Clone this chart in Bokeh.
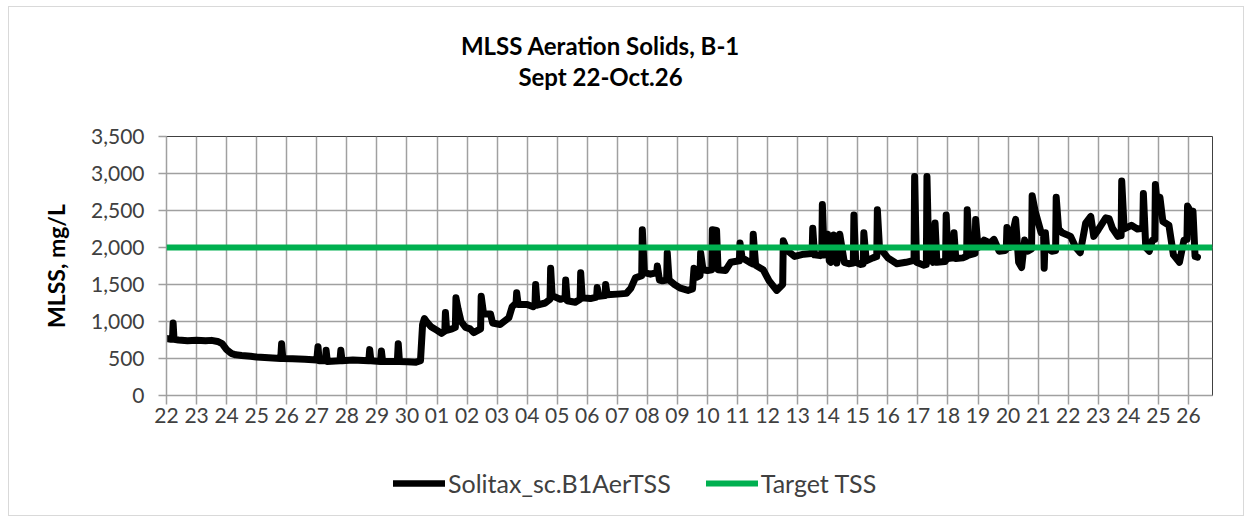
from bokeh.plotting import figure
from bokeh.layouts import column
from bokeh.models import (Range1d, FixedTicker, NumeralTickFormatter, Span, Legend,
                          LegendItem, Label)
from bokeh.embed import file_html
from bokeh.resources import INLINE

# ---------------- data ----------------
title_line1 = "MLSS Aeration Solids, B-1"
title_line2 = "Sept 22-Oct.26"
y_label = "MLSS, mg/L"
series_name = "Solitax_sc.B1AerTSS"
target_name = "Target TSS"

# tick labels: one per day, Sep 22 .. Oct 26
day_labels = ["22", "23", "24", "25", "26", "27", "28", "29", "30",
              "01", "02", "03", "04", "05", "06", "07", "08", "09", "10",
              "11", "12", "13", "14", "15", "16", "17", "18", "19", "20",
              "21", "22", "23", "24", "25", "26"]

# time in days since Sep 22 00:00
t_days = [0.00, 0.15, 0.20, 0.22, 0.25, 0.40, 0.70, 1.00, 1.30, 1.50, 1.70, 1.85,
          2.00, 2.15, 2.30, 2.50, 2.80, 3.00, 3.40, 3.80, 3.83, 3.87, 4.20, 4.60,
          5.00, 5.04, 5.08, 5.29, 5.31, 5.35, 5.77, 5.80, 5.84, 6.20, 6.73, 6.76,
          6.80, 7.12, 7.15, 7.19, 7.68, 7.71, 7.75, 8.00, 8.30, 8.45, 8.52, 8.58,
          8.65, 8.80, 9.00, 9.15, 9.26, 9.28, 9.32, 9.50, 9.61, 9.63, 9.70, 9.80, 9.95, 10.10,
          10.22, 10.45, 10.47, 10.55, 10.78, 10.85, 11.10, 11.39, 11.50, 11.63, 11.65, 11.70,
          12.00, 12.20, 12.26, 12.28, 12.33, 12.60, 12.76, 12.78, 12.83, 13.10, 13.26, 13.28,
          13.33, 13.60, 13.76, 13.78, 13.83, 14.10, 14.31, 14.33, 14.38, 14.59, 14.61, 14.66,
          15.00, 15.30, 15.45, 15.60, 15.81, 15.83, 15.90, 16.10, 16.31, 16.33,
          16.40, 16.50, 16.64, 16.66, 16.72, 16.90, 17.10, 17.35, 17.50, 17.55, 17.65, 17.75,
          17.77, 17.85, 18.00, 18.14, 18.16, 18.30, 18.35, 18.60, 18.77, 19.06, 19.08, 19.15,
          19.40, 19.50, 19.52, 19.60, 19.85, 20.05, 20.30, 20.45, 20.50, 20.52, 20.65, 20.90,
          21.20, 21.45, 21.48, 21.50, 21.56, 21.75, 21.80, 21.82, 21.88,
          22.00, 22.05, 22.10, 22.20, 22.30, 22.40, 22.55, 22.70, 22.85, 22.87, 22.93, 23.10,
          23.18, 23.20, 23.28, 23.50, 23.63, 23.65, 23.72, 24.00, 24.30, 24.60, 24.80, 24.87,
          24.89, 24.95, 25.20, 25.28, 25.30, 25.36, 25.50, 25.55, 25.57, 25.63, 25.90, 25.92,
          25.94, 26.00, 26.18, 26.20, 26.26, 26.50, 26.62, 26.64, 26.72, 26.90, 26.92,
          27.00, 27.20, 27.40, 27.53, 27.70, 27.90, 27.94, 27.96, 28.05, 28.25, 28.35, 28.45,
          28.55, 28.65, 28.78, 28.80, 28.90, 29.10, 29.18, 29.20, 29.24, 29.28, 29.45, 29.58,
          29.60, 29.68, 29.80, 30.08, 30.25, 30.40, 30.58, 30.75, 30.85, 31.00, 31.25, 31.36,
          31.47, 31.65, 31.76, 31.78, 31.86, 32.10, 32.30, 32.48, 32.50, 32.58, 32.70, 32.80,
          32.88, 32.90, 32.98, 33.05, 33.15, 33.35, 33.50, 33.70, 33.85, 33.95, 33.97, 34.05,
          34.15, 34.22, 34.30]

mlss = [770, 760, 760, 980, 760, 750, 740, 745, 740, 745, 730, 700,
        620, 570, 550, 540, 530, 520, 510, 500, 700, 500, 495, 490,
        480, 660, 470, 470, 610, 460, 470, 610, 470, 480, 470, 620,
        470, 460, 600, 460, 460, 700, 460, 455, 450, 470, 960, 1040,
        1000, 930, 880, 840, 870, 1120, 880, 900, 920, 1320, 1170, 1000, 920, 900,
        850, 900, 1340, 1100, 1100, 980, 960, 1050, 1200, 1250, 1390, 1230,
        1230, 1200, 1230, 1500, 1220, 1250, 1300, 1720, 1350, 1300, 1320, 1560,
        1280, 1260, 1300, 1660, 1320, 1310, 1330, 1460, 1340, 1350, 1500, 1360,
        1370, 1380, 1450, 1590, 1620, 2240, 1660, 1640, 1660, 1750,
        1560, 1550, 1560, 1930, 1560, 1500, 1450, 1420, 1440, 1720, 1600, 1620,
        1930, 1700, 1690, 1700, 2240, 2230, 1700, 1690, 1800, 1820, 2060, 1860,
        1800, 1780, 2180, 1760, 1700, 1550, 1420, 1480, 1500, 2090, 1960, 1880,
        1910, 1920, 1930, 2260, 1900, 1890, 1900, 2580, 1900,
        2180, 1820, 1800, 2170, 1790, 2180, 1800, 1780, 1790, 2440, 1800, 1770,
        1780, 2200, 1820, 1860, 1880, 2510, 2000, 1860, 1780, 1800, 1820, 1830,
        2960, 1800, 1760, 1770, 2960, 1900, 1800, 1810, 2330, 1800, 1810, 1820,
        2440, 1850, 1860, 2200, 1850, 1860, 1880, 2510, 1900, 1920, 2380,
        2000, 2100, 2060, 2110, 1950, 1960, 1980, 2270, 2000, 2380, 1800, 1730,
        2100, 1950, 1980, 2700, 2490, 2200, 2200, 1720, 2200, 2000, 1950, 1960,
        2680, 2250, 2200, 2150, 2000, 1930, 2330, 2420, 2150, 2240, 2400, 2390,
        2260, 2150, 2160, 2900, 2250, 2300, 2250, 2260, 2730, 2000, 1950, 2100,
        2110, 2850, 2500, 2680, 2350, 2300, 1900, 1800, 2100, 2110, 2560, 2500,
        2490, 1880, 1870]

target_tss = 2000
y_ticks = [0, 500, 1000, 1500, 2000, 2500, 3000, 3500]

# ---------------- layout sizes ----------------
W = 1234
H_HEAD = 115
H_MAIN = 318
H_LEG = 75
font = "Lato"
green = "#00B050"
grid_color = "#a0a0a0"
label_color = "#404040"


def blank_fig(height):
    f = figure(width=W, height=height, output_backend="svg", toolbar_location=None,
               x_range=Range1d(0, W), y_range=Range1d(0, height),
               x_axis_location=None, y_axis_location=None,
               min_border=0, title=None)
    f.grid.visible = False
    f.outline_line_color = None
    f.background_fill_color = "white"
    f.border_fill_color = "white"
    return f


# ---------------- header (titles) ----------------
# (column aligns the frames, so screen x is measured from the plot frame's left edge)
head = blank_fig(H_HEAD)
head.add_layout(Label(x=434, y=77, x_units="screen", y_units="screen",
                      text=title_line1, text_align="center", text_baseline="middle",
                      text_font=font, text_font_style="bold",
                      text_font_size="24px", text_color="black"))
head.add_layout(Label(x=434, y=46, x_units="screen", y_units="screen",
                      text=title_line2, text_align="center", text_baseline="middle",
                      text_font=font, text_font_style="bold",
                      text_font_size="24px", text_color="black"))

# ---------------- main chart ----------------
x_end = 34.8
p = figure(width=W, height=H_MAIN, output_backend="svg", toolbar_location=None,
           x_range=Range1d(0, x_end), y_range=Range1d(0, 3500),
           min_border_left=157, min_border_right=31, min_border_top=14,
           min_border_bottom=45, title=None)
p.background_fill_color = "white"
p.border_fill_color = "white"
p.outline_line_color = "#404040"
p.outline_line_width = 1

p.xgrid.ticker = FixedTicker(ticks=list(range(len(day_labels))))
p.xgrid.grid_line_color = grid_color
p.xgrid.grid_line_width = 1.5
p.ygrid.grid_line_color = grid_color
p.ygrid.grid_line_width = 1.5

xa = p.xaxis[0]
xa.ticker = FixedTicker(ticks=list(range(len(day_labels))))
xa.major_label_overrides = {i: s for i, s in enumerate(day_labels)}
xa.major_label_text_font = font
xa.major_label_text_font_size = "21px"
xa.major_label_text_color = label_color
xa.major_tick_in = 0
xa.major_tick_out = 9
xa.minor_tick_line_color = None
xa.major_tick_line_color = grid_color
xa.major_tick_line_width = 1.5
xa.axis_line_color = grid_color
xa.axis_line_width = 1.5
xa.major_label_standoff = 3

ya = p.yaxis[0]
ya.ticker = FixedTicker(ticks=y_ticks)
ya.formatter = NumeralTickFormatter(format="0,0")
ya.major_label_text_font = font
ya.major_label_text_font_size = "21px"
ya.major_label_text_color = label_color
ya.major_tick_in = 0
ya.major_tick_out = 8
ya.minor_tick_line_color = None
ya.major_tick_line_color = grid_color
ya.major_tick_line_width = 1.5
ya.axis_line_color = grid_color
ya.axis_line_width = 1.5
ya.major_label_standoff = 14
ya.axis_label = y_label
ya.axis_label_text_font = font
ya.axis_label_text_font_style = "bold"
ya.axis_label_text_font_size = "23px"
ya.axis_label_text_color = "#000000"
ya.axis_label_standoff = 18

line_r = p.line(t_days, mlss, line_color="black", line_width=7,
                line_join="round", line_cap="round")
p.add_layout(Span(location=target_tss, dimension="width", line_color=green,
                  line_width=6))

# ---------------- legend ----------------
leg = blank_fig(H_LEG)
nan = float("nan")
r_series = leg.line([nan], [nan], line_color="black", line_width=6.5, line_cap="round")
r_target = leg.line([nan], [nan], line_color=green, line_width=6, line_cap="round")
legend = Legend(items=[LegendItem(label=series_name, renderers=[r_series]),
                       LegendItem(label=target_name, renderers=[r_target])],
                orientation="horizontal", location=(227, 17),
                padding=0, margin=0, spacing=35, glyph_width=52, glyph_height=20,
                label_standoff=3, border_line_color=None,
                background_fill_alpha=0,
                label_text_font=font, label_text_font_size="25px",
                label_text_color=label_color)
leg.add_layout(legend, "center")

layout = column(head, p, leg, spacing=0,
                styles={"border": "1px solid #d9d9d9", "margin-left": "8px",
                        "margin-top": "6px", "width": "fit-content"})

open("out.html", "w").write(file_html(layout, INLINE))
